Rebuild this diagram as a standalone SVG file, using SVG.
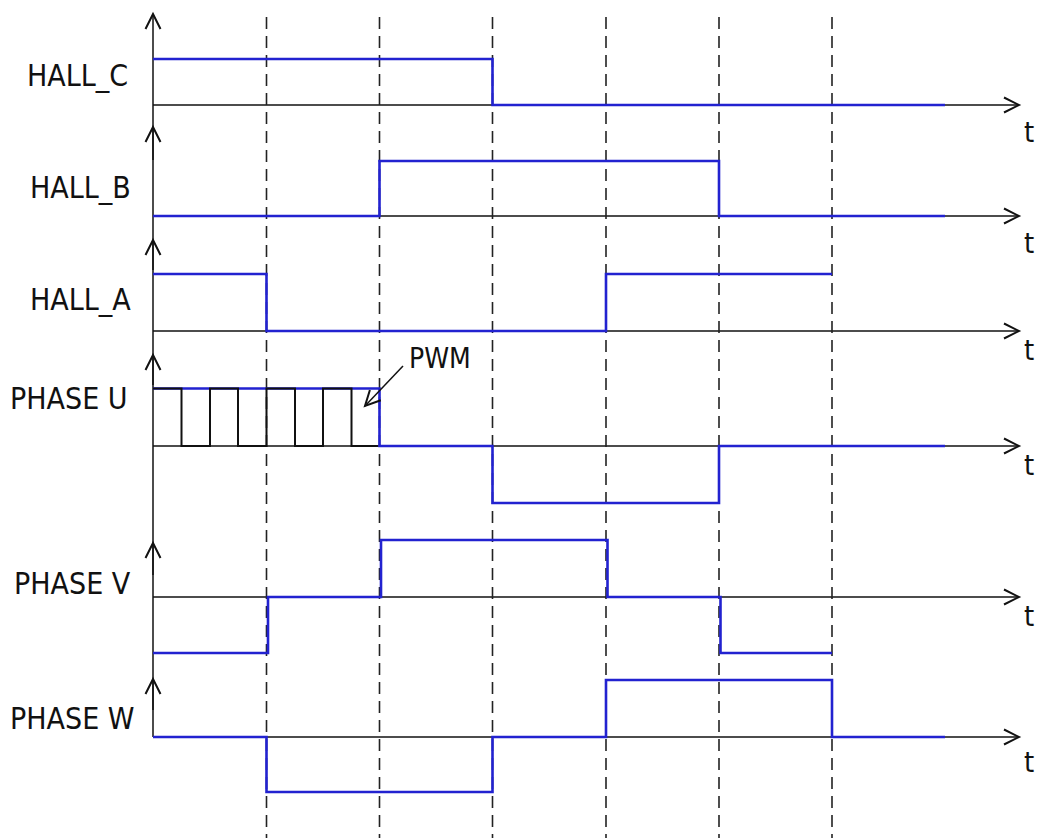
<svg xmlns="http://www.w3.org/2000/svg" width="1038" height="838" viewBox="0 0 1038 838">
<defs>
<marker id="ah" markerUnits="userSpaceOnUse" markerWidth="20" markerHeight="20" refX="0" refY="0" viewBox="-14 -8 16 16" orient="auto" overflow="visible">
<path d="M-12,-6 L0,0 L-12,6" fill="none" stroke="#111" stroke-width="1.6"/>
</marker>
<style>
.ax{stroke:#111;stroke-width:1.5;fill:none}
.dash{stroke:#222;stroke-width:1.6;stroke-dasharray:12 7;fill:none}
.wave{stroke:#2222d0;stroke-width:2.6;fill:none;stroke-linejoin:miter}
.pwm{stroke:#111;stroke-width:2;fill:none}
.lbl{font-family:"DejaVu Sans Condensed","DejaVu Sans",sans-serif;font-size:30px;fill:#111}
.t{font-family:"DejaVu Sans Condensed","DejaVu Sans",sans-serif;font-size:29px;fill:#111}
</style>
</defs>
<rect width="1038" height="838" fill="#fff"/>
<g id="axes">
<line class="ax" x1="153" y1="737" x2="153" y2="14" marker-end="url(#ah)"/>
<line class="ax" x1="153" y1="160" x2="153" y2="127" marker-end="url(#ah)"/>
<line class="ax" x1="153" y1="270" x2="153" y2="240" marker-end="url(#ah)"/>
<line class="ax" x1="153" y1="385" x2="153" y2="355" marker-end="url(#ah)"/>
<line class="ax" x1="153" y1="575" x2="153" y2="543" marker-end="url(#ah)"/>
<line class="ax" x1="153" y1="710" x2="153" y2="679" marker-end="url(#ah)"/>
<line class="ax" x1="153" y1="105" x2="1019" y2="105" marker-end="url(#ah)"/>
<line class="ax" x1="153" y1="216" x2="1019" y2="216" marker-end="url(#ah)"/>
<line class="ax" x1="153" y1="331" x2="1019" y2="331" marker-end="url(#ah)"/>
<line class="ax" x1="153" y1="446" x2="1019" y2="446" marker-end="url(#ah)"/>
<line class="ax" x1="153" y1="597" x2="1019" y2="597" marker-end="url(#ah)"/>
<line class="ax" x1="153" y1="737" x2="1019" y2="737" marker-end="url(#ah)"/>
</g>
<g id="dashed-lines">
<line class="dash" x1="266.5" y1="17" x2="266.5" y2="838"/>
<line class="dash" x1="379.5" y1="17" x2="379.5" y2="838"/>
<line class="dash" x1="492.5" y1="17" x2="492.5" y2="838"/>
<line class="dash" x1="606" y1="17" x2="606" y2="838"/>
<line class="dash" x1="719" y1="17" x2="719" y2="838"/>
<line class="dash" x1="832" y1="17" x2="832" y2="838"/>
</g>
<g id="hall-c">
<path class="wave" d="M153,59 H492.5 V105 H945"/>
<text class="lbl" x="27" y="86">HALL_C</text>
<text class="t" x="1024" y="142">t</text>
</g>
<g id="hall-b">
<path class="wave" d="M153,216 H379.5 V161 H719 V216 H945"/>
<text class="lbl" x="30" y="198">HALL_B</text>
<text class="t" x="1024" y="253">t</text>
</g>
<g id="hall-a">
<path class="wave" d="M153,274 H266.5 V331 H606 V274 H832"/>
<text class="lbl" x="30" y="310">HALL_A</text>
<text class="t" x="1024" y="360">t</text>
</g>
<g id="phase-u">
<path class="wave" d="M153,388.5 H379.5 V446 H492.5 V503 H719 V446 H945"/>
<path class="pwm" d="M153,388.5 H181.5 V446 H210 V388.5 H238 V446 H266.5 V388.5 H295 V446 H323 V388.5 H351.5 V446 H378"/>
<text class="lbl" x="10" y="409">PHASE U</text>
<text class="t" x="1024" y="475">t</text>
</g>
<g id="pwm-label">
<line class="ax" x1="403" y1="366" x2="365" y2="406" marker-end="url(#ah)"/>
<text class="lbl" x="409" y="368" style="font-size:28px">PWM</text>
</g>
<g id="phase-v">
<path class="wave" d="M153,653 H268 V597 H381 V540 H607.5 V597 H720.5 V653 H832"/>
<text class="lbl" x="14" y="594">PHASE V</text>
<text class="t" x="1024" y="626">t</text>
</g>
<g id="phase-w">
<path class="wave" d="M153,737 H266.5 V792 H492.5 V737 H606 V680 H832 V737 H945"/>
<text class="lbl" x="10" y="729">PHASE W</text>
<text class="t" x="1024" y="772">t</text>
</g>
</svg>
